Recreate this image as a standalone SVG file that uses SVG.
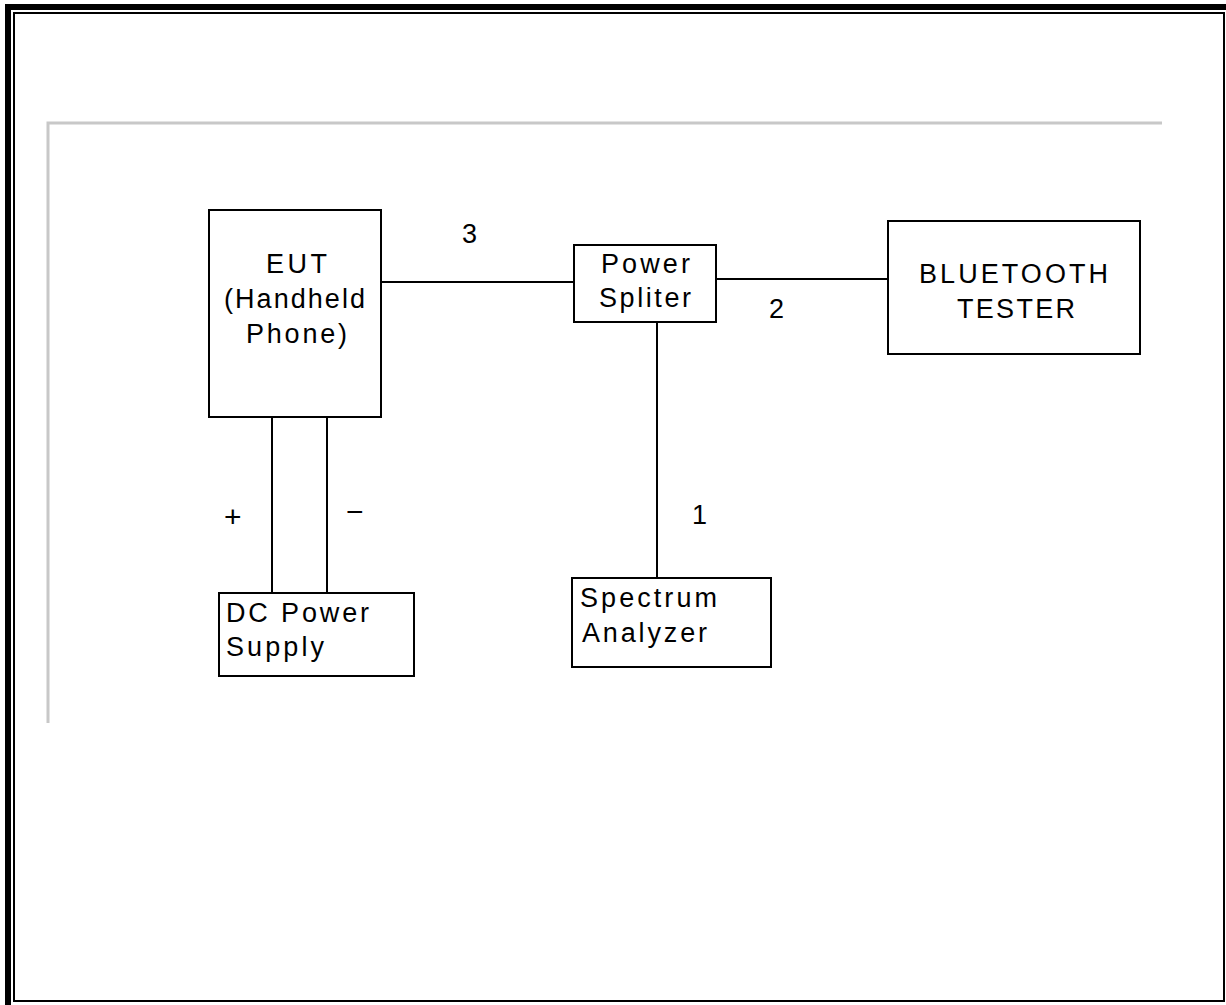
<svg xmlns="http://www.w3.org/2000/svg" width="1226" height="1005" viewBox="0 0 1226 1005">
<style>
.box{fill:#fff;stroke:#000;stroke-width:2}
.ln{stroke:#000;stroke-width:2;fill:none}
text{font-family:"Liberation Sans",Arial,sans-serif;font-size:27px;fill:#000}
.sym{font-size:30px}
</style>
<rect width="1226" height="1005" fill="#fff"/>
<g id="frame">
<rect x="8" y="7" width="1240" height="1020" fill="none" stroke="#000" stroke-width="6"/>
<rect x="14" y="13" width="1210" height="988" fill="none" stroke="#000" stroke-width="2"/>
<polyline points="48,723 48,123 1162,123" fill="none" stroke="#c8c8c8" stroke-width="3"/>
</g>
<g id="connectors">
<line class="ln" x1="381" y1="282" x2="574" y2="282"/>
<line class="ln" x1="716" y1="279" x2="888" y2="279"/>
<line class="ln" x1="657" y1="322" x2="657" y2="578"/>
<line class="ln" x1="272" y1="417" x2="272" y2="593"/>
<line class="ln" x1="327" y1="417" x2="327" y2="593"/>
<text x="462" y="243" textLength="18">3</text>
<text x="769" y="318" textLength="18">2</text>
<text x="692" y="524" textLength="14">1</text>
<text class="sym" x="224" y="527" textLength="20">+</text>
<text class="sym" x="346" y="522" textLength="21">−</text>
</g>
<g id="eut">
<rect class="box" x="209" y="210" width="172" height="207"/>
<text x="266" y="273" textLength="61">EUT</text>
<text x="224" y="308" textLength="141">(Handheld</text>
<text x="246" y="343" textLength="101">Phone)</text>
</g>
<g id="splitter">
<rect class="box" x="574" y="245" width="142" height="77"/>
<text x="601" y="273" textLength="89">Power</text>
<text x="599" y="307" textLength="92">Spliter</text>
</g>
<g id="bluetooth">
<rect class="box" x="888" y="221" width="252" height="133"/>
<text x="919" y="283" textLength="189">BLUETOOTH</text>
<text x="957" y="318" textLength="118">TESTER</text>
</g>
<g id="dcpower">
<rect class="box" x="219" y="593" width="195" height="83"/>
<text x="226" y="622" textLength="143">DC Power</text>
<text x="226" y="656" textLength="98">Supply</text>
</g>
<g id="spectrum">
<rect class="box" x="572" y="578" width="199" height="89"/>
<text x="580" y="607" textLength="137">Spectrum</text>
<text x="582" y="642" textLength="125">Analyzer</text>
</g>
</svg>
